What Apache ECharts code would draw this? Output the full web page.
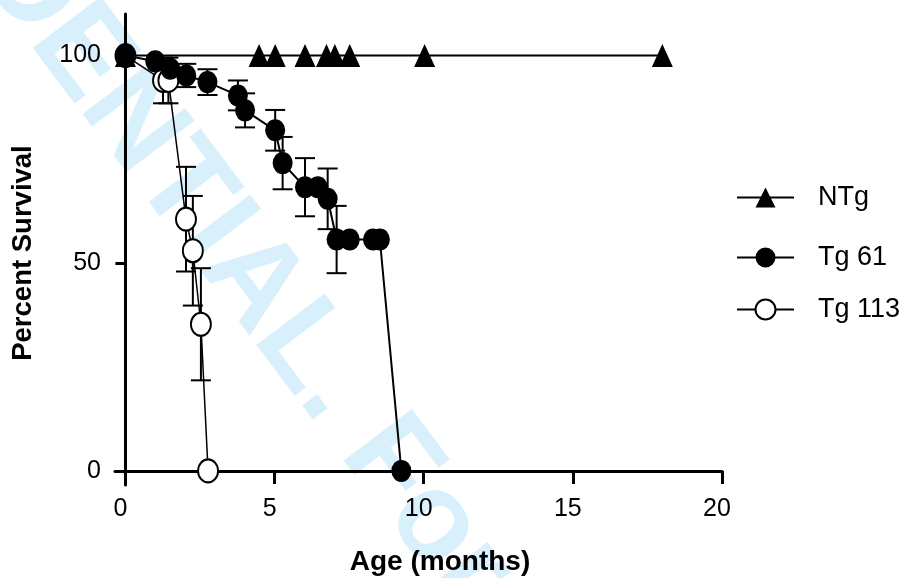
<!DOCTYPE html>
<html><head><meta charset="utf-8">
<script src="https://cdn.jsdelivr.net/npm/echarts@6/dist/echarts.min.js"></script>
<style>html,body{margin:0;padding:0;background:#fff}#c{width:911px;height:578px}</style>
</head><body><div id="c"></div>
<script>
// ---- data ----
const ntgX = [0, 4.48, 5.02, 6.02, 6.74, 7.02, 7.52, 10.03, 18.0];
const ntgY = [100, 100, 100, 100, 100, 100, 100, 100, 100];
const tg61X = [0, 1.0, 1.5, 2.04, 2.75, 3.77, 4.01, 5.02, 5.27, 6.02, 6.45, 6.78, 7.08, 7.52, 8.3, 8.53, 9.25];
const tg61Y = [100, 98.6, 96.8, 95.2, 93.6, 90.4, 86.8, 82.0, 74.1, 68.3, 68.3, 65.5, 55.7, 55.7, 55.7, 55.7, 0];
const tg61Err = [0, 0, 0, 2.8, 3.1, 3.6, 4.1, 4.9, 6.3, 7.0, 0, 7.3, 8.1, 0, 0, 0, 0];
const tg113X = [0, 1.26, 1.44, 2.03, 2.26, 2.53, 2.77];
const tg113Y = [100, 94, 94, 60.6, 53.0, 35.3, 0];
const tg113Err = [0, 5.5, 5.5, 12.6, 13.2, 13.5, 0];
const xTicks = [0, 5, 10, 15, 20];
const yTicks = [0, 50, 100];
const seriesNames = ['NTg', 'Tg 61', 'Tg 113'];
const xTitle = 'Age (months)';
const yTitle = 'Percent Survival';
const watermark = 'CONFIDENTIAL. For Peer Review';

// ---- build ----
const FONT = '"Liberation Sans", Arial, sans-serif';
const zip = (xs, ys) => xs.map((x, i) => [x, ys[i]]);
const errData = (xs, ys, es) => xs.map((x, i) => [x, ys[i] - es[i], ys[i] + es[i]]).filter((d, i) => es[i] > 0);

function renderErr(params, api) {
  const x = api.value(0), lo = api.value(1), hi = api.value(2);
  const p1 = api.coord([x, hi]), p2 = api.coord([x, lo]);
  const w = 10;
  const st = { stroke: '#000', lineWidth: 2 };
  return {
    type: 'group',
    children: [
      { type: 'line', shape: { x1: p1[0], y1: p1[1], x2: p2[0], y2: p2[1] }, style: st },
      { type: 'line', shape: { x1: p1[0] - w, y1: p1[1], x2: p1[0] + w, y2: p1[1] }, style: st },
      { type: 'line', shape: { x1: p2[0] - w, y1: p2[1], x2: p2[0] + w, y2: p2[1] }, style: st }
    ]
  };
}

const legendCommon = {
  orient: 'vertical', left: 731, itemWidth: 57, itemHeight: 25,
  textStyle: { fontSize: 27, fontFamily: FONT, color: '#000', padding: [0, 0, 0, 19] },
  selectedMode: false
};

const chart = echarts.init(document.getElementById('c'), null, { renderer: 'canvas' });
chart.setOption({
  animation: false,
  backgroundColor: '#fff',
  grid: { left: 115, top: 14, width: 607, height: 471, containLabel: false },
  legend: [
    Object.assign({}, legendCommon, { data: [seriesNames[0]], top: 179 }),
    Object.assign({}, legendCommon, { data: [seriesNames[1]], top: 239 }),
    Object.assign({}, legendCommon, { data: [seriesNames[2]], top: 291 })
  ],
  xAxis: {
    type: 'value', min: -0.35, max: 20,
    axisLine: { onZero: true, lineStyle: { color: '#000', width: 3 } },
    axisTick: { customValues: xTicks.slice(1), length: 13, lineStyle: { color: '#000', width: 3 } },
    axisLabel: { customValues: xTicks, margin: 12, fontSize: 25, fontFamily: FONT, color: '#000', padding: [0, 10, 0, 0] },
    splitLine: { show: false }
  },
  yAxis: {
    type: 'value', min: -3.4, max: 110,
    axisLine: { onZero: true, lineStyle: { color: '#000', width: 3 } },
    axisTick: { customValues: yTicks, length: 10, lineStyle: { color: '#000', width: 3 } },
    axisLabel: { customValues: yTicks, margin: 14, fontSize: 25, fontFamily: FONT, color: '#000' },
    splitLine: { show: false }
  },
  graphic: [
    { type: 'text', z: -10, x: -231, y: -359, rotation: -53 * Math.PI / 180, silent: true,
      style: { text: watermark, font: 'bold 124px ' + FONT, fill: '#d7f0fc', textAlign: 'left', textVerticalAlign: 'middle' } },
    { type: 'text', x: 440, y: 562,
      style: { text: xTitle, font: 'bold 28px ' + FONT, fill: '#000', textAlign: 'center', textVerticalAlign: 'middle' } },
    { type: 'text', x: 23, y: 253, rotation: Math.PI / 2,
      style: { text: yTitle, font: 'bold 27.5px ' + FONT, fill: '#000', textAlign: 'center', textVerticalAlign: 'middle' } }
  ],
  series: [
    { type: 'custom', name: 'Tg 113 SEM', z: 1, renderItem: renderErr, encode: { x: 0, y: [1, 2] },
      data: errData(tg113X, tg113Y, tg113Err), silent: true },
    { type: 'line', name: seriesNames[2], z: 2, data: zip(tg113X, tg113Y),
      symbol: 'circle', symbolSize: [20, 23], showAllSymbol: true,
      itemStyle: { color: '#fff', borderColor: '#000', borderWidth: 2 },
      lineStyle: { color: '#000', width: 1.5 } },
    { type: 'line', name: seriesNames[0], z: 3, data: zip(ntgX, ntgY),
      symbol: 'triangle', symbolSize: [21, 23], showAllSymbol: true,
      itemStyle: { color: '#000' }, lineStyle: { color: '#000', width: 2 } },
    { type: 'custom', name: 'Tg 61 SEM', z: 4, renderItem: renderErr, encode: { x: 0, y: [1, 2] },
      data: errData(tg61X, tg61Y, tg61Err), silent: true },
    { type: 'line', name: seriesNames[1], z: 5, data: zip(tg61X, tg61Y),
      symbol: 'circle', symbolSize: [20, 22], showAllSymbol: true,
      itemStyle: { color: '#000' }, lineStyle: { color: '#000', width: 2 } }
  ]
});
</script></body></html>
